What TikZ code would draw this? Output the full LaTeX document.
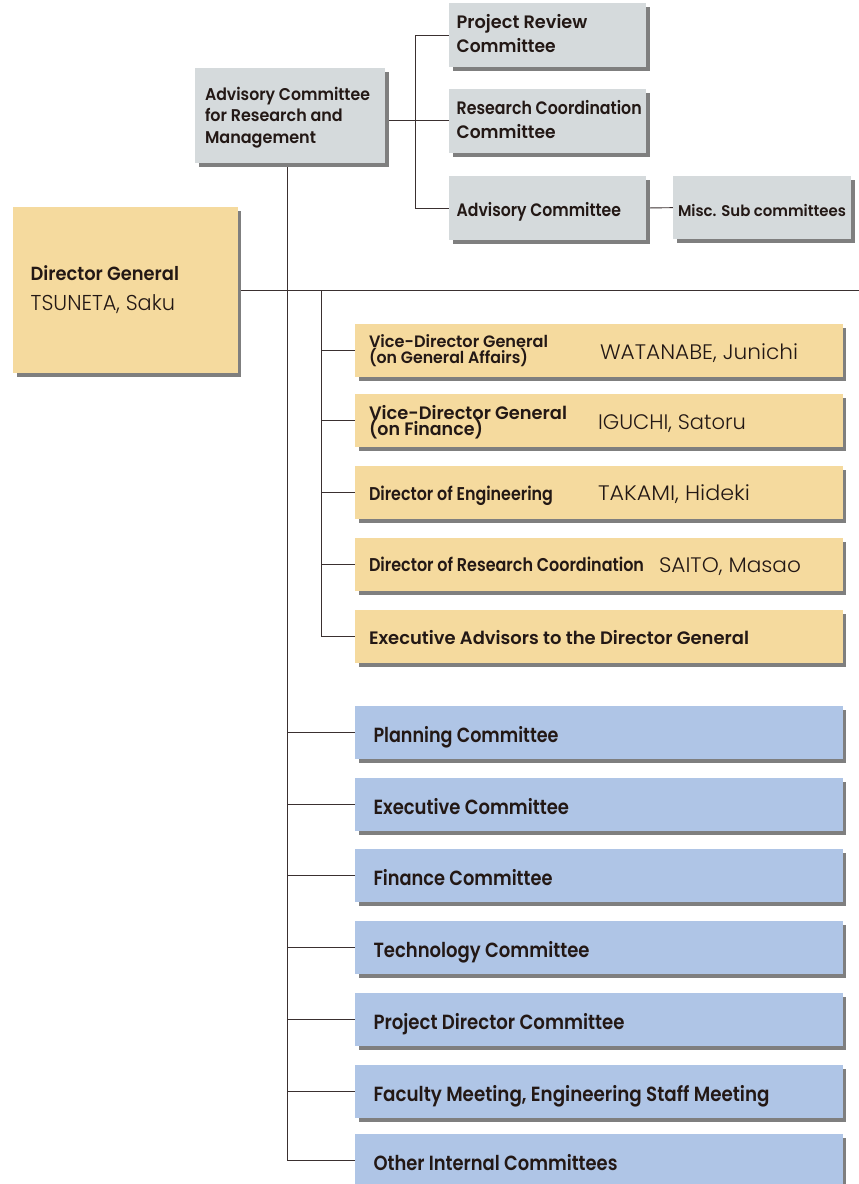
\documentclass[tikz,border=0pt]{standalone}
\usepackage{fontspec}
\setmainfont{Poppins}[BoldFont={Poppins SemiBold}]
\newfontfamily\lightf{Poppins Light}
\usepackage{graphicx}
\usetikzlibrary{shadows}
\definecolor{boxgray}{HTML}{D5DADC}
\definecolor{boxyel}{HTML}{F5DA9E}
\definecolor{boxblue}{HTML}{AFC5E6}
\definecolor{shd}{HTML}{7F7F7F}
\definecolor{linec}{HTML}{3A3030}
\definecolor{txtc}{HTML}{231815}
\newcommand{\fitw}[2]{\resizebox{#1pt}{\height}{#2}}
\pgfdeclarelayer{background}
\pgfsetlayers{background,main}
\begin{document}
\begin{tikzpicture}[x=1pt,y=-1pt,
  box/.style={draw=none, inner sep=0pt, outer sep=0pt, anchor=north west,
    drop shadow={shadow xshift=3.5pt, shadow yshift=-4pt, fill=shd, opacity=1}},
  gbox/.style={box, fill=boxgray, minimum width=197pt, minimum height=63.5pt},
  ybox/.style={box, fill=boxyel, minimum width=487.7pt, minimum height=52.7pt},
  bbox/.style={box, fill=boxblue, minimum width=487.7pt, minimum height=53pt},
  lbl/.style={anchor=base west, inner sep=0pt, outer sep=0pt, text=txtc},
  bl/.style={lbl, font=\bfseries\fontsize{#1}{#1}\selectfont},
  rg/.style={lbl, font=\lightf\fontsize{#1}{#1}\selectfont},
  conn/.style={draw=linec, line width=0.9pt},
]
\useasboundingbox (0,0) rectangle (859,1184);

% ---- boxes
\node[gbox, minimum width=190pt, minimum height=95pt] (acrm) at (195,68) {};
\node[gbox] (pr) at (449,3.3) {};
\node[gbox] (rc) at (449,89) {};
\node[gbox, minimum height=64pt] (ac) at (449,176) {};
\node[gbox, minimum width=178pt, minimum height=63.3pt] (misc) at (673,176) {};
\node[box, fill=boxyel, minimum width=224.7pt, minimum height=166.6pt] (dg) at (13,206.7) {};

\node[ybox] (y1) at (355,324) {};
\node[ybox] (y2) at (355,394) {};
\node[ybox] (y3) at (355,466) {};
\node[ybox] (y4) at (355,538) {};
\node[ybox] (y5) at (355,610) {};

\node[bbox] (b1) at (355,706) {};
\node[bbox] (b2) at (355,778) {};
\node[bbox] (b3) at (355,849.3) {};
\node[bbox] (b4) at (355,921) {};
\node[bbox] (b5) at (355,993) {};
\node[bbox] (b6) at (355,1065) {};
\node[bbox] (b7) at (355,1134) {};

% ---- labels
\node[bl=17] (t-acrm1) at (205,100) {\fitw{165}{Advisory Committee}};
\node[bl=17] (t-acrm2) at (205,121.5) {\fitw{137.7}{for Research and}};
\node[bl=17] (t-acrm3) at (205,143) {\fitw{111}{Management}};
\node[bl=18] (t-pr1) at (456.7,28.3) {\fitw{130.7}{Project Review}};
\node[bl=18] (t-pr2) at (456.7,52.3) {\fitw{99}{Committee}};
\node[bl=18] (t-rc1) at (456.7,114) {\fitw{185}{Research Coordination}};
\node[bl=18] (t-rc2) at (456.7,138) {\fitw{99}{Committee}};
\node[bl=18] (t-ac) at (456.7,216) {\fitw{164.3}{Advisory Committee}};
\node[bl=15.5] (t-misc) at (678,216.7) {\fitw{168}{Misc. Sub committees}};
\node[bl=19] (t-dg1) at (30.7,280) {\fitw{148.3}{Director General}};
\node[rg=21.5] (t-dg2) at (30.7,310.7) {\fitw{144.3}{TSUNETA, Saku}};

\node[bl=16.5] (t-y1a) at (369,347.3) {\fitw{179}{Vice-Director General}};
\node[bl=16.5] (t-y1b) at (369,363.3) {\fitw{159}{(on General Affairs)}};
\node[rg=21] (t-y1n) at (600,359) {\fitw{198}{WATANABE, Junichi}};
\node[bl=18] (t-y2a) at (369,419) {\fitw{198}{Vice-Director General}};
\node[bl=18] (t-y2b) at (369,435.7) {\fitw{114}{(on Finance)}};
\node[rg=21] (t-y2n) at (598,429) {\fitw{148}{IGUCHI, Satoru}};
\node[bl=18.5] (t-y3a) at (369,500) {\fitw{184}{Director of Engineering}};
\node[rg=21] (t-y3n) at (598,500.7) {\fitw{152}{TAKAMI, Hideki}};
\node[bl=18.5] (t-y4a) at (369,571.3) {\fitw{275}{Director of Research Coordination}};
\node[rg=21] (t-y4n) at (659,572.7) {\fitw{142}{SAITO, Masao}};
\node[bl=18] (t-y5a) at (369,644) {\fitw{380}{Executive Advisors to the Director General}};

\node[bl=20.5] (t-b1) at (373.5,742.3) {\fitw{185}{Planning Committee}};
\node[bl=20.5] (t-b2) at (373.5,814.3) {\fitw{195.5}{Executive Committee}};
\node[bl=20.5] (t-b3) at (373.5,885.6) {\fitw{179}{Finance Committee}};
\node[bl=20.5] (t-b4) at (373.5,957.3) {\fitw{216}{Technology Committee}};
\node[bl=20.5] (t-b5) at (373.5,1029.3) {\fitw{251}{Project Director Committee}};
\node[bl=20.5] (t-b6) at (373.5,1101.3) {\fitw{396}{Faculty Meeting, Engineering Staff Meeting}};
\node[bl=20.5] (t-b7) at (373.5,1170.3) {\fitw{244}{Other Internal Committees}};

% ---- junction coordinates
\coordinate (bx) at (415,120);
\coordinate (mv) at (287,290);
\coordinate (sv) at (321,290);
\coordinate (re) at (859,290);

% ---- connectors
\begin{pgfonlayer}{background}
\draw[conn] (acrm.east |- rc.west) -- (rc.west);
\draw[conn] (pr.west) -- (pr.west -| bx) -- (ac.west -| bx) -- (ac.west);
\draw[conn] (ac.east) -- (misc.west);
\draw[conn] (mv |- acrm.south) -- (mv |- b7.west) -- (b7.west);
\draw[conn] (dg.east |- mv) -- (re);
\draw[conn] (sv) -- (sv |- y5.west) -- (y5.west);
\foreach \n in {y1,y2,y3,y4} \draw[conn] (sv |- \n.west) -- (\n.west);
\foreach \n in {b1,b2,b3,b4,b5,b6} \draw[conn] (mv |- \n.west) -- (\n.west);
\end{pgfonlayer}
\end{tikzpicture}
\end{document}
